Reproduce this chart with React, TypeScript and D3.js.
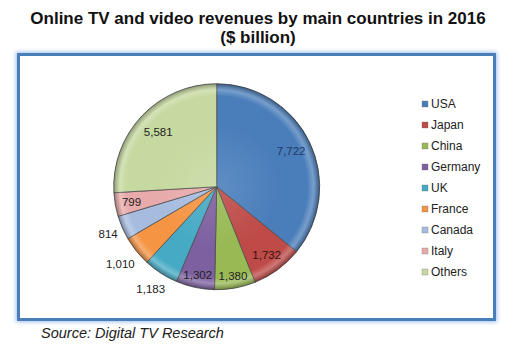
import React from "react";
import * as d3 from "d3";

const categories = ["USA", "Japan", "China", "Germany", "UK", "France", "Canada", "Italy", "Others"];
const values = [7722, 1732, 1380, 1302, 1183, 1010, 814, 799, 5581];
const colors = ["#4A7EBB", "#BE4B48", "#98B954", "#7D60A0", "#46AAC5", "#F59443", "#A6BCDF", "#E8AAAA", "#C6D9A0"];
const labelDist = [0.8, 0.82, 0.88, 0.88, 1.18, 1.2, 1.15, 0.84, 0.78];
const labelColors = ["#1F3864", "#3a1010", "#222", "#222", "#222", "#222", "#222", "#222", "#222"];

export default function App() {
  const W = 518, H = 351;
  const cx = 216.7, cy = 186.7, r = 103;
  const pie = d3.pie<number>().sort(null).value((d) => d)(values);
  const arc = d3.arc<d3.PieArcDatum<number>>().innerRadius(0).outerRadius(r);
  const fmt = d3.format(",");
  const legendY = d3.scalePoint<string>().domain(categories).range([104, 272]);
  return (
    <svg width={W} height={H} style={{ position: "absolute", left: 0, top: 0 }} fontFamily="Liberation Sans, Arial, sans-serif">
      <defs>
        <filter id="glow" x="-10%" y="-10%" width="120%" height="120%">
          <feGaussianBlur stdDeviation="2" />
        </filter>
        <radialGradient id="bevel" cx="0" cy="0" r={r} gradientUnits="userSpaceOnUse">
          <stop offset="0" stopColor="#fff" stopOpacity="0.12" />
          <stop offset="0.6" stopColor="#fff" stopOpacity="0.0" />
          <stop offset="0.88" stopColor="#fff" stopOpacity="0.0" />
          <stop offset="0.94" stopColor="#fff" stopOpacity="0.25" />
          <stop offset="1" stopColor="#000" stopOpacity="0.3" />
        </radialGradient>
      </defs>
      <rect x={0} y={0} width={W} height={H} fill="#fff" />
      <text x={258} y={24} textAnchor="middle" fontSize={17} fontWeight="bold" fill="#111">Online TV and video revenues by main countries in 2016</text>
      <text x={258} y={43} textAnchor="middle" fontSize={17} fontWeight="bold" fill="#111">($ billion)</text>
      <rect x={18.5} y={54.5} width={476} height={265} fill="none" stroke="#9DC0EC" strokeWidth={5} filter="url(#glow)" />
      <rect x={18.5} y={54.5} width={476} height={265} fill="#fff" stroke="#4A7EBB" strokeWidth={3} />
      <g transform={`translate(${cx},${cy})`}>
        {pie.map((p, i) => (
          <g key={categories[i]}>
            <path d={arc(p) || ""} fill={colors[i]} stroke="#4d4d4d" strokeWidth={0.8} />
            <path d={arc(p) || ""} fill="url(#bevel)" stroke="none" />
          </g>
        ))}
        {pie.map((p, i) => {
          const a = (p.startAngle + p.endAngle) / 2;
          const d = labelDist[i] * r;
          return (
            <text key={"l" + i} x={Math.sin(a) * d} y={-Math.cos(a) * d} dy="0.35em" textAnchor="middle" fontSize={11.5} fill={labelColors[i]}>
              {fmt(values[i])}
            </text>
          );
        })}
      </g>
      <g>
        {categories.map((c, i) => (
          <g key={c} transform={`translate(0,${legendY(c)})`}>
            <rect x={422} y={-3} width={6} height={6} fill={colors[i]} stroke="#666" strokeWidth={0.3} />
            <text x={431} y={0} dy="0.35em" fontSize={12} fill="#222">{c}</text>
          </g>
        ))}
      </g>
      <text x={41} y={338} fontSize={14.5} fontStyle="italic" fill="#222">Source: Digital TV Research</text>
    </svg>
  );
}
